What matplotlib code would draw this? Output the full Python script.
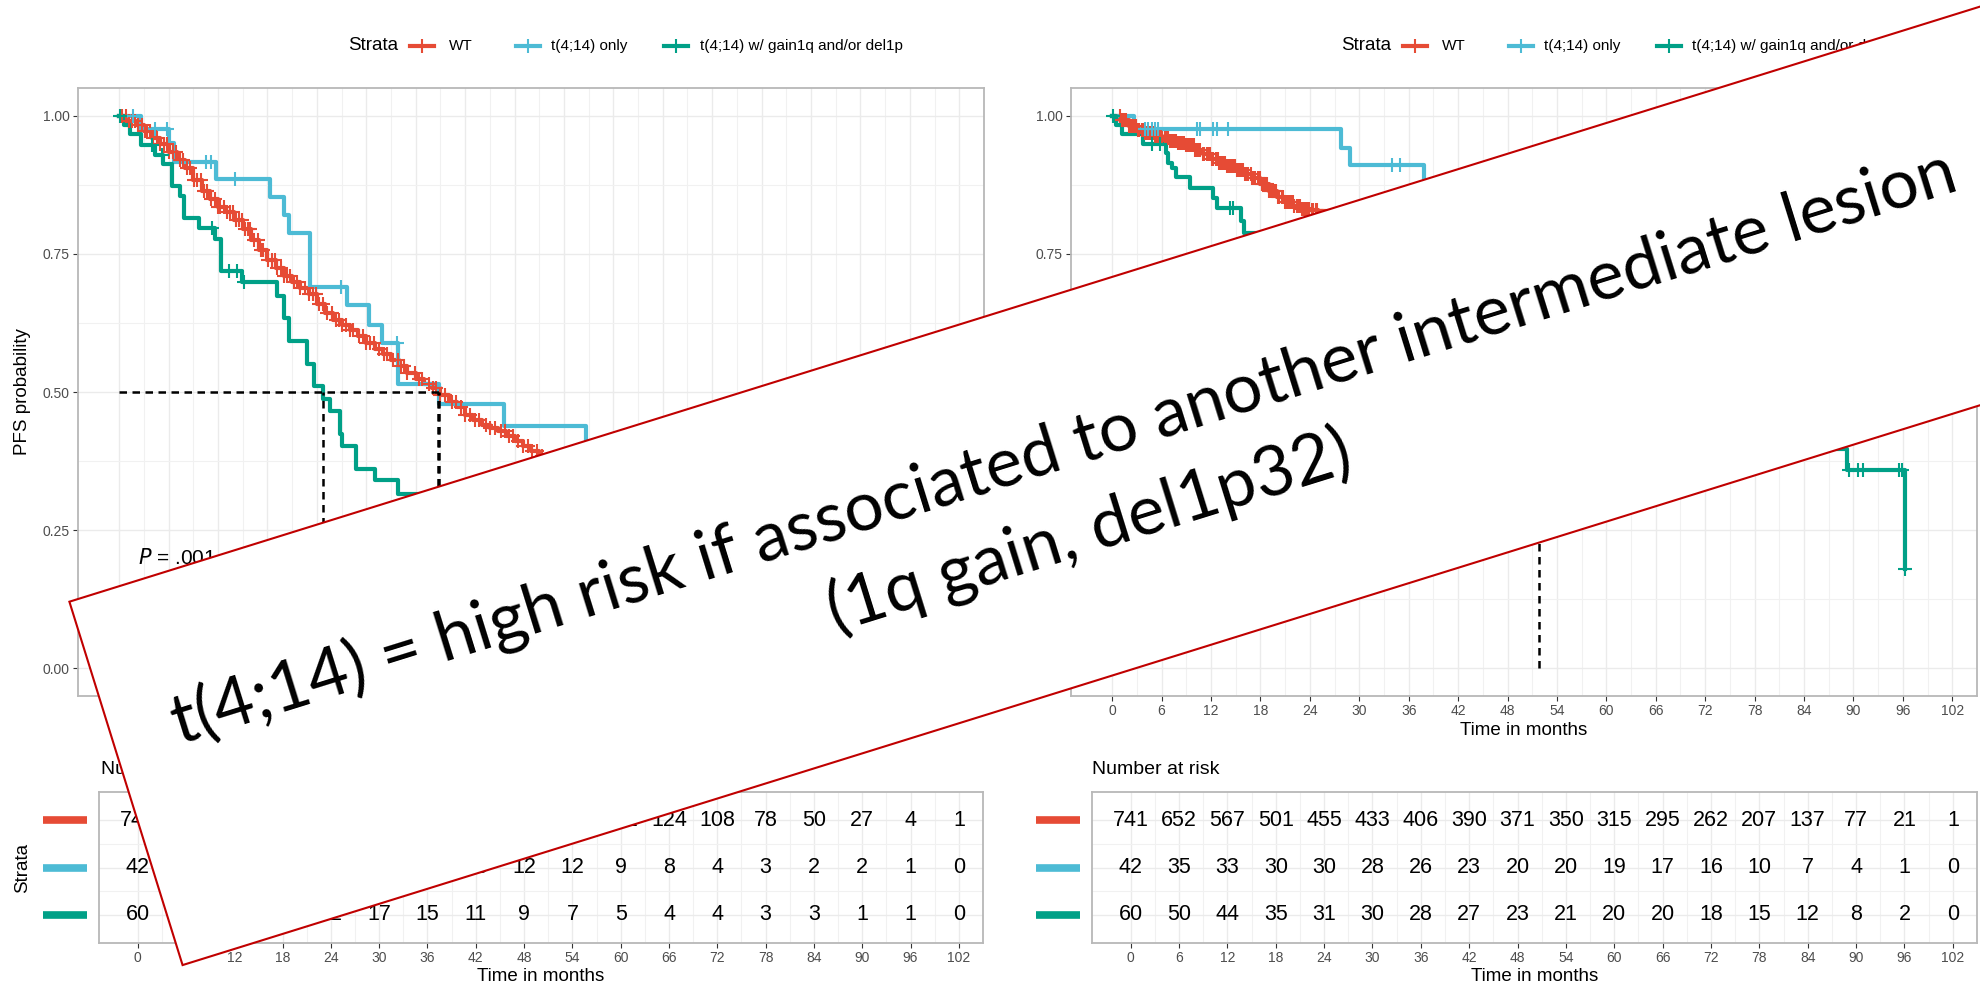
import numpy as np
import matplotlib
matplotlib.use("Agg")
import matplotlib.pyplot as plt
import matplotlib.transforms as mtransforms
from matplotlib.patches import Polygon
from matplotlib.lines import Line2D

plt.rcParams['font.family'] = ['Liberation Sans', 'DejaVu Sans']

W, H = 1980, 991

strata = ['WT', 't(4;14) only', 't(4;14) w/ gain1q and/or del1p']
colors = ['#E64B35', '#4DBBD5', '#00A087']
risk_times = [0, 6, 12, 18, 24, 30, 36, 42, 48, 54, 60, 66, 72, 78, 84, 90, 96, 102]

# ---------------- PFS (left panel) ----------------
pfs_wt_t = [0, 1, 2, 3, 4, 5, 6, 7, 8, 9, 10, 11, 12, 13, 14, 15, 16, 17, 18, 19, 20,
            21, 22, 23, 24, 25, 26, 27, 28, 29, 30, 31, 32, 33, 34, 35, 36, 37, 38, 39,
            40, 41, 42, 43, 44, 45, 46, 47, 48, 49, 50, 51, 54, 60, 66, 72, 78, 84, 90, 96, 100]
pfs_wt_s = [1.0, 0.99, 0.983, 0.972, 0.96, 0.948, 0.935, 0.92, 0.905, 0.884, 0.863, 0.849,
            0.835, 0.825, 0.812, 0.794, 0.775, 0.757, 0.739, 0.724, 0.71, 0.699, 0.688, 0.678,
            0.66, 0.643, 0.631, 0.622, 0.613, 0.601, 0.589, 0.578, 0.568, 0.557, 0.547, 0.535,
            0.523, 0.515, 0.508, 0.495, 0.482, 0.472, 0.458, 0.449, 0.441, 0.434, 0.43, 0.421,
            0.412, 0.402, 0.393, 0.385, 0.36, 0.32, 0.285, 0.255, 0.225, 0.195, 0.17, 0.15, 0.15]
pfs_wt_cens = [0.4, 0.8, 1.2, 1.5, 1.9, 2.3, 2.8, 3.1, 3.4, 3.8, 4.1, 4.6, 5.0, 5.5, 5.8, 6.1,
               6.5, 6.9, 7.4, 7.8, 8.2, 8.6, 9.1, 9.5, 9.9, 10.3, 10.7, 11.2, 11.6, 12.0, 12.3,
               12.7, 13.1, 13.5, 13.8, 14.2, 14.5, 14.9, 15.3, 15.6, 15.9, 16.4, 16.8, 17.2,
               17.5, 18.1, 18.5, 18.9, 19.2, 19.6, 20.0, 20.4, 20.8, 21.2, 21.6, 22.0, 22.6,
               23.0, 23.5, 23.9, 24.3, 24.8, 25.2, 25.8, 26.3, 26.7, 27.1, 27.5, 28.0, 28.4,
               29.1, 29.6, 30.0, 30.4, 30.9, 31.6, 32.1, 32.5, 33.3, 33.8, 34.2, 34.6, 35.0,
               35.9, 36.4, 36.8, 37.6, 38.1, 38.5, 39.0, 39.6, 40.4, 40.9, 41.5, 42.0, 42.6,
               43.2, 43.7, 44.5, 45.0, 45.6, 46.3, 46.9, 47.3, 47.8, 48.4, 49.0, 49.6, 50.1,
               50.7, 51.3, 55.0, 62.0, 70.0, 80.0, 90.0, 98.0]

pfs_t414_t = [0, 2.6, 6.0, 6.6, 11.7, 18.3, 20.0, 20.6, 23.2, 27.7, 30.3, 31.9, 33.9, 38.8,
              46.7, 56.7, 62.0, 70.5, 79.0, 88.0, 96.0]
pfs_t414_s = [1.0, 0.976, 0.951, 0.917, 0.886, 0.853, 0.82, 0.788, 0.69, 0.658, 0.622, 0.588,
              0.515, 0.478, 0.439, 0.395, 0.35, 0.29, 0.22, 0.16, 0.16]
pfs_t414_cens = [1.7, 4.4, 5.8, 10.6, 11.1, 14.1, 26.9, 33.7, 60.0, 75.0]

pfs_gain_t = [0, 0.6, 1.3, 2.6, 4.3, 5.3, 6.4, 7.4, 7.9, 9.7, 11.6, 12.4, 14.9, 19.2, 20.0,
              20.6, 22.8, 23.6, 24.8, 25.6, 26.8, 27.1, 28.7, 31.1, 33.9, 40.5, 46.0, 53.0,
              61.0, 72.0, 84.0, 96.0]
pfs_gain_s = [1.0, 0.983, 0.966, 0.946, 0.929, 0.913, 0.873, 0.854, 0.815, 0.797, 0.776,
              0.719, 0.699, 0.673, 0.634, 0.593, 0.55, 0.511, 0.487, 0.466, 0.424, 0.403,
              0.361, 0.34, 0.316, 0.28, 0.245, 0.21, 0.17, 0.135, 0.1, 0.1]
pfs_gain_cens = [0.1, 4.0, 5.2, 11.3, 13.3, 14.3, 15.2]

pfs_medians = [38.7, 38.8, 24.7]
pfs_pval = '.001'

pfs_risk_wt = [741, 660, 585, 510, 445, 385, 335, 290, 250, 205, 161, 124, 108, 78, 50, 27, 4, 1]
pfs_risk_t414 = [42, 39, 35, 31, 27, 24, 20, 15, 12, 12, 9, 8, 4, 3, 2, 2, 1, 0]
pfs_risk_gain = [60, 49, 40, 30, 22, 17, 15, 11, 9, 7, 5, 4, 4, 3, 3, 1, 1, 0]

# ---------------- OS (right panel) ----------------
os_wt_t = [0, 1, 2, 3, 4, 5, 6, 7, 8, 9, 10, 11, 12, 13, 14, 15, 16, 17, 18, 19, 20, 21, 22,
           23, 24, 25, 28, 32, 36, 40, 45, 50, 55, 60, 66, 72, 78, 84, 90, 96, 100]
os_wt_s = [1.0, 0.992, 0.982, 0.974, 0.968, 0.963, 0.96, 0.955, 0.95, 0.946, 0.938, 0.93,
           0.922, 0.915, 0.908, 0.902, 0.895, 0.887, 0.876, 0.864, 0.853, 0.843, 0.836, 0.831,
           0.829, 0.828, 0.81, 0.79, 0.77, 0.75, 0.73, 0.70, 0.68, 0.65, 0.62, 0.60, 0.57,
           0.55, 0.53, 0.51, 0.51]
os_wt_cens = [0.9, 1.2, 1.4, 1.7, 2.0, 2.3, 2.5, 2.7, 2.9, 3.1, 3.3, 3.6, 3.8, 4.0, 4.2, 4.5,
              4.7, 4.9, 5.2, 5.4, 5.7, 5.9, 6.1, 6.4, 6.6, 6.8, 7.0, 7.3, 7.5, 7.8, 8.0, 8.2,
              8.5, 8.7, 9.0, 9.2, 9.4, 9.7, 9.9, 10.1, 10.3, 10.5, 10.7, 11.0, 11.2, 11.5, 11.7,
              11.9, 12.1, 12.3, 12.6, 12.8, 13.0, 13.2, 13.5, 13.7, 14.0, 14.2, 14.4, 14.7,
              14.9, 15.2, 15.4, 15.7, 15.9, 16.1, 16.3, 16.5, 16.8, 17.0, 17.2, 17.4, 17.7,
              17.9, 18.2, 18.4, 18.6, 18.8, 19.0, 19.3, 19.5, 19.7, 19.9, 20.1, 20.3, 20.6,
              20.8, 21.0, 21.2, 21.5, 21.7, 21.9, 22.1, 22.4, 22.6, 22.8, 23.0, 23.3, 23.5,
              23.7, 23.9, 24.2, 24.4, 24.7, 24.9, 30.0, 40.0, 50.0, 60.0, 70.0, 80.0, 90.0, 99.0]

os_t414_t = [0, 2.6, 27.8, 28.9, 37.8, 47.0, 58.0, 70.0, 82.0, 92.0]
os_t414_s = [1.0, 0.975, 0.941, 0.911, 0.87, 0.83, 0.78, 0.72, 0.65, 0.65]
os_t414_cens = [4.0, 4.4, 4.8, 5.2, 5.6, 10.3, 10.7, 12.2, 12.7, 14.1, 34.0, 35.0, 50.0, 65.0, 92.0]

os_gain_t = [0, 0.5, 1.2, 3.8, 6.5, 6.8, 7.3, 7.8, 9.5, 12.3, 12.7, 15.6, 16.0, 20.0, 26.0,
             32.0, 38.0, 45.0, 51.8, 60.0, 70.0, 80.0, 89.2, 96.2, 96.3]
os_gain_s = [1.0, 0.983, 0.966, 0.949, 0.932, 0.914, 0.905, 0.889, 0.869, 0.851, 0.833, 0.809,
             0.787, 0.745, 0.70, 0.64, 0.60, 0.55, 0.49, 0.45, 0.42, 0.397, 0.358, 0.179, 0.179]
os_gain_cens = [0.1, 4.8, 5.8, 14.3, 14.7, 89.5, 90.5, 91.1, 95.5, 95.9, 96.3]

os_medians = [np.nan, np.nan, 51.8]
os_pval = '< .001'

os_risk_wt = [741, 652, 567, 501, 455, 433, 406, 390, 371, 350, 315, 295, 262, 207, 137, 77, 21, 1]
os_risk_t414 = [42, 35, 33, 30, 30, 28, 26, 23, 20, 20, 19, 17, 16, 10, 7, 4, 1, 0]
os_risk_gain = [60, 50, 44, 35, 31, 30, 28, 27, 23, 21, 20, 20, 18, 15, 12, 8, 2, 0]

banner_lines = ['t(4;14) = high risk if associated to another intermediate lesion',
                '(1q gain, del1p32)']


def px(x, y):
    # pixel position (top-left origin) -> figure fraction
    return x / W, 1 - y / H


def style_axes(ax):
    for sp in ax.spines.values():
        sp.set_color('#B8B8B8')
        sp.set_linewidth(1.3)
    ax.tick_params(which='major', colors='#333333', labelcolor='#4D4D4D', labelsize=10,
                   length=3.5, width=0.8, pad=2.5)
    ax.tick_params(which='minor', length=0)
    ax.grid(which='major', color='#EBEBEB', lw=1.0)
    ax.grid(which='minor', color='#F1F1F1', lw=0.8)
    ax.set_axisbelow(True)
    ax.set_xticks(risk_times)
    ax.set_xticks(np.arange(3, 105, 6), minor=True)


def km_curve(ax, t, s, cens, color):
    t = np.asarray(t)
    s = np.asarray(s)
    ax.step(t, s, where='post', color=color, lw=3.0, zorder=3)
    c = np.asarray(cens)
    idx = np.searchsorted(t, c, side='right') - 1
    ax.plot(c, s[idx], ls='none', marker='+', ms=10, mew=1.5, color=color, zorder=4)


def survival_panel(rect, curves, medians, pval, ylabel):
    ax = fig.add_axes(rect)
    style_axes(ax)
    for (t, s, cens), col in zip(curves, colors):
        km_curve(ax, t, s, cens, col)
    med = np.array(medians, dtype=float)
    med = med[~np.isnan(med)]
    if len(med):
        ax.plot([0, med.max()], [0.5, 0.5], color='black', lw=1.8, ls=(0, (3, 2.2)), zorder=5)
        for m in np.unique(med):
            ax.plot([m, m], [0, 0.5], color='black', lw=1.8, ls=(0, (3, 2.2)), zorder=5)
    ax.text(2.3, 0.2, r'$P$ = ' + pval, fontsize=15, ha='left', va='center')
    ax.set_xlim(-5, 105)
    ax.set_ylim(-0.05, 1.05)
    ax.set_yticks([0, 0.25, 0.5, 0.75, 1.0])
    ax.set_yticklabels(['0.00', '0.25', '0.50', '0.75', '1.00'])
    ax.set_yticks([0.125, 0.375, 0.625, 0.875], minor=True)
    ax.set_xlabel('Time in months', fontsize=13.5)
    ax.xaxis.set_label_coords(0.5, -0.043)
    ax.set_ylabel(ylabel, fontsize=13.5)
    ax.yaxis.set_label_coords(-0.052, 0.5)
    return ax


def risk_table(rect, rows, strata_label):
    tab = fig.add_axes(rect)
    style_axes(tab)
    for r, (row, col) in enumerate(zip(rows, colors)):
        y = 3 - r
        for t, n in zip(risk_times, row):
            tab.text(t, y, str(n), ha='center', va='center', fontsize=15.5, color='black')
    tab.set_xlim(-4.8, 105)
    tab.set_ylim(0.41, 3.59)
    tab.set_yticks([1, 2, 3])
    tab.set_yticklabels([])
    tab.set_yticks([1.5, 2.5], minor=True)
    tab.tick_params(axis='y', which='major', length=0)
    trans = mtransforms.blended_transform_factory(tab.transAxes, tab.transData)
    for r, col in enumerate(colors):
        tab.plot([-0.063, -0.0136], [3 - r, 3 - r], transform=trans, clip_on=False,
                 color=col, lw=5.5, solid_capstyle='butt')
    tab.set_xlabel('Time in months', fontsize=13.5)
    tab.xaxis.set_label_coords(0.5, -0.165)
    if strata_label:
        tab.set_ylabel('Strata', fontsize=13.5)
        tab.yaxis.set_label_coords(-0.077, 0.5)
    return tab


def strata_legend(dx):
    fig.text(*px(348.5 + dx, 46), 'Strata', fontsize=13.5, ha='left', va='center')
    centers = [422, 528, 676]
    label_x = [449, 551, 699.5]
    for name, col, cx, lx in zip(strata, colors, centers, label_x):
        x0, y0 = px(cx - 12 + dx, 46)
        x1, _ = px(cx + 12 + dx, 46)
        fig.add_artist(Line2D([x0, x1], [y0, y0], transform=fig.transFigure, color=col, lw=3))
        xc, _ = px(cx + dx, 46)
        fig.add_artist(Line2D([xc], [y0], transform=fig.transFigure, color=col, marker='+',
                              ms=10, mew=1.5, ls='none'))
        fig.text(*px(lx + dx, 46), name, fontsize=11, ha='left', va='center')


fig = plt.figure(figsize=(W / 100, H / 100), dpi=100)

pfs_curves = [(pfs_wt_t, pfs_wt_s, pfs_wt_cens),
              (pfs_t414_t, pfs_t414_s, pfs_t414_cens),
              (pfs_gain_t, pfs_gain_s, pfs_gain_cens)]
os_curves = [(os_wt_t, os_wt_s, os_wt_cens),
             (os_t414_t, os_t414_s, os_t414_cens),
             (os_gain_t, os_gain_s, os_gain_cens)]

survival_panel([78 / W, 1 - 696 / H, 906 / W, 608 / H], pfs_curves, pfs_medians, pfs_pval,
               'PFS probability')
survival_panel([1071 / W, 1 - 696 / H, 906 / W, 608 / H], os_curves, os_medians, os_pval,
               'OS probability')

risk_table([99 / W, 1 - 943 / H, 884 / W, 151 / H],
           [pfs_risk_wt, pfs_risk_t414, pfs_risk_gain], True)
risk_table([1092 / W, 1 - 943 / H, 885 / W, 151 / H],
           [os_risk_wt, os_risk_t414, os_risk_gain], False)

fig.text(*px(101, 769), 'Number at risk', fontsize=14, ha='left', va='center')
fig.text(*px(1092, 769), 'Number at risk', fontsize=14, ha='left', va='center')

strata_legend(0)
strata_legend(992.5)

# rotated call-out banner across the figure
theta = np.deg2rad(17.3)
u = np.array([np.cos(theta), -np.sin(theta)])
nv = np.array([np.sin(theta), np.cos(theta)])
tl = np.array([69.4, 601.7])
band_w, band_l = 380.6, 2400
corners = [tl, tl + band_l * u, tl + band_l * u + band_w * nv, tl + band_w * nv]
fig.add_artist(Polygon([px(*c) for c in corners], closed=True, transform=fig.transFigure,
                       facecolor='white', edgecolor='#C00000', lw=1.5, zorder=20))

base1 = np.array([1069.5, 467.0])
base2 = base1 + 88 * nv
for line, pos in zip(banner_lines, [base1, base2]):
    fig.text(*px(*pos), line, rotation=17.3, rotation_mode='anchor', ha='center',
             va='baseline', fontsize=50, family=['Lato', 'DejaVu Sans'], color='black',
             zorder=21)

fig.savefig('out.png', dpi=100)
